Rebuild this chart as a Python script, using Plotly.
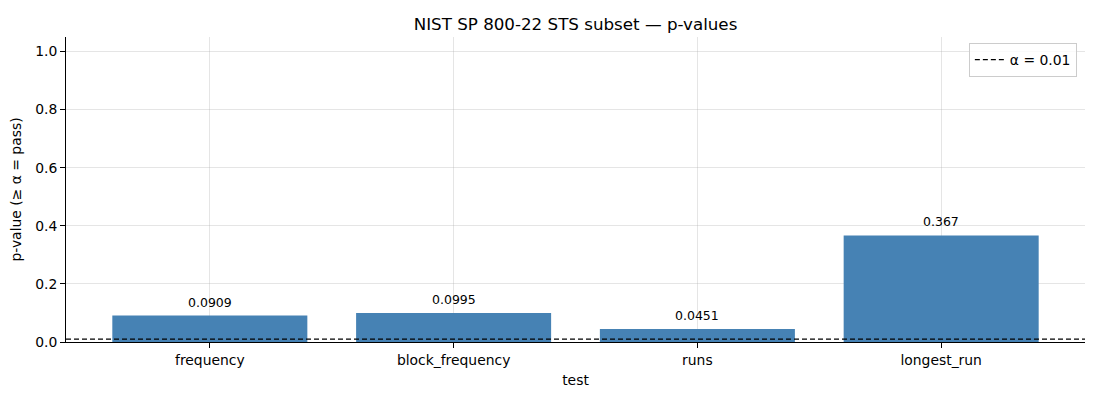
import plotly.graph_objects as go

tests = ['frequency', 'block_frequency', 'runs', 'longest_run']
p_values = [0.0909, 0.0995, 0.0451, 0.367]
labels = ['0.0909', '0.0995', '0.0451', '0.367']
alpha = 0.01

fig = go.Figure()

fig.add_trace(go.Bar(x=tests, y=p_values, marker_color='#4682b4',
                     marker_line_width=0, width=0.8, showlegend=False,
                     hoverinfo='x+y'))

# value labels above the bars
for t, v, s in zip(tests, p_values, labels):
    fig.add_annotation(x=t, y=v, text=s, showarrow=False, yanchor='bottom',
                       yshift=4, font=dict(size=12.5, color='black'))

# significance threshold
fig.add_shape(type='line', xref='paper', x0=0, x1=1, y0=alpha, y1=alpha,
              line=dict(color='black', width=1.2, dash='5px,3px'),
              showlegend=True, name='α = 0.01', layer='above')

grid = 'rgba(170,170,170,0.3)'
fig.update_layout(
    width=1100, height=400,
    margin=dict(l=66, r=15, t=37, b=58),
    paper_bgcolor='white', plot_bgcolor='white',
    font=dict(family='DejaVu Sans', size=13.9, color='black'),
    title=dict(text='NIST SP 800-22 STS subset — p-values', xref='paper', x=0.5,
               xanchor='center', y=0.94, yanchor='middle', font=dict(size=16.7)),
    bargap=0.2,
    legend=dict(x=0.992, y=0.98, xanchor='right', yanchor='top',
                bordercolor='#cccccc', borderwidth=1, bgcolor='rgba(255,255,255,0.8)',
                font=dict(size=13.9)),
    xaxis=dict(title=dict(text='test', font=dict(size=13.9), standoff=8),
               range=[-0.59, 3.59], showline=True, linecolor='black', linewidth=1,
               ticks='outside', ticklen=5, tickcolor='black',
               tickfont=dict(size=13.9), showgrid=True, gridcolor=grid,
               layer='above traces', zeroline=False),
    yaxis=dict(title=dict(text='p-value (≥ α = pass)', font=dict(size=13.9), standoff=10),
               range=[0, 1.05], dtick=0.2, tickformat='.1f', showline=True,
               linecolor='black', linewidth=1, ticks='outside', ticklen=5,
               tickcolor='black', tickfont=dict(size=13.9), showgrid=True,
               gridcolor=grid, layer='above traces', zeroline=False),
)

# drop the default page margin so the figure sits at the window corner
fig.write_html('out.html', config={'displayModeBar': False},
               post_script="document.body.style.margin='0';")
